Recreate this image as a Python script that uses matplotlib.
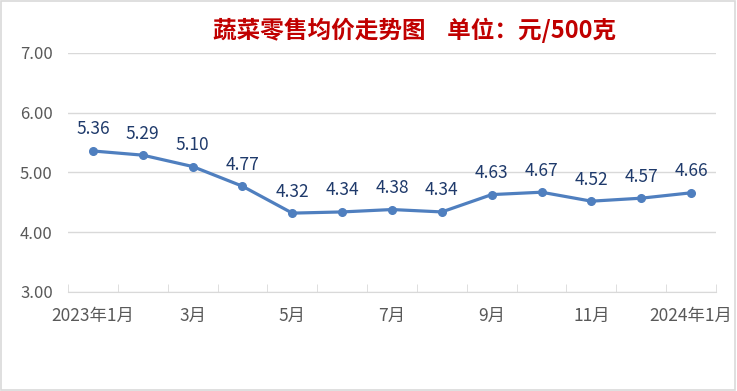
import matplotlib.pyplot as plt
from matplotlib.patches import Rectangle
import numpy as np

plt.rcParams['font.family'] = ['Noto Sans CJK SC', 'DejaVu Sans']

# data
months = ['2023年1月', '2月', '3月', '4月', '5月', '6月', '7月',
          '8月', '9月', '10月', '11月', '12月', '2024年1月']
prices = [5.36, 5.29, 5.10, 4.77, 4.32, 4.34, 4.38, 4.34, 4.63, 4.67, 4.52, 4.57, 4.66]
title = '蔬菜零售均价走势图    单位：元/500克'

fig = plt.figure(figsize=(7.37, 3.91), dpi=100)
ax = fig.add_axes([0.0923, 0.2532, 0.8792, 0.6113])

x = np.arange(len(months))
ax.plot(x, prices, color='#4F7FBF', lw=2.3, marker='o', ms=5.5, zorder=3)
for xi, v in zip(x, prices):
    ax.annotate(f'{v:.2f}', (xi, v), xytext=(0, 9), textcoords='offset points',
                ha='center', va='bottom', color='#1F3A6B', fontsize=12.5)

ax.set_xlim(-0.5, len(months) - 0.5)
ax.set_ylim(3, 7)
ax.set_yticks([3, 4, 5, 6, 7])
ax.set_yticklabels([f'{t:.2f}' for t in [3, 4, 5, 6, 7]])
ax.grid(axis='y', color='#D9D9D9', lw=1)
ax.set_axisbelow(True)

ax.set_xticks(x[::2])
ax.set_xticklabels(months[::2])
ax.set_xticks(np.arange(-0.5, len(months)), minor=True)
ax.tick_params(axis='x', which='major', length=0, pad=11, labelsize=12.5, labelcolor='#595959')
ax.tick_params(axis='x', which='minor', direction='in', length=6, color='#D9D9D9')
ax.tick_params(axis='y', length=0, pad=11, labelsize=12, labelcolor='#595959')

for s in ['top', 'right', 'left']:
    ax.spines[s].set_visible(False)
ax.spines['bottom'].set_color('#D9D9D9')

fig.text(0.562, 0.922, title, ha='center', va='center', color='#C00000',
         fontsize=17, fontweight='semibold')

fig.patches.append(Rectangle((0.002, 0.003), 0.995, 0.994, transform=fig.transFigure,
                             fill=False, edgecolor='#D9D9D9', lw=1.2))

fig.savefig('out.png', dpi=100)
